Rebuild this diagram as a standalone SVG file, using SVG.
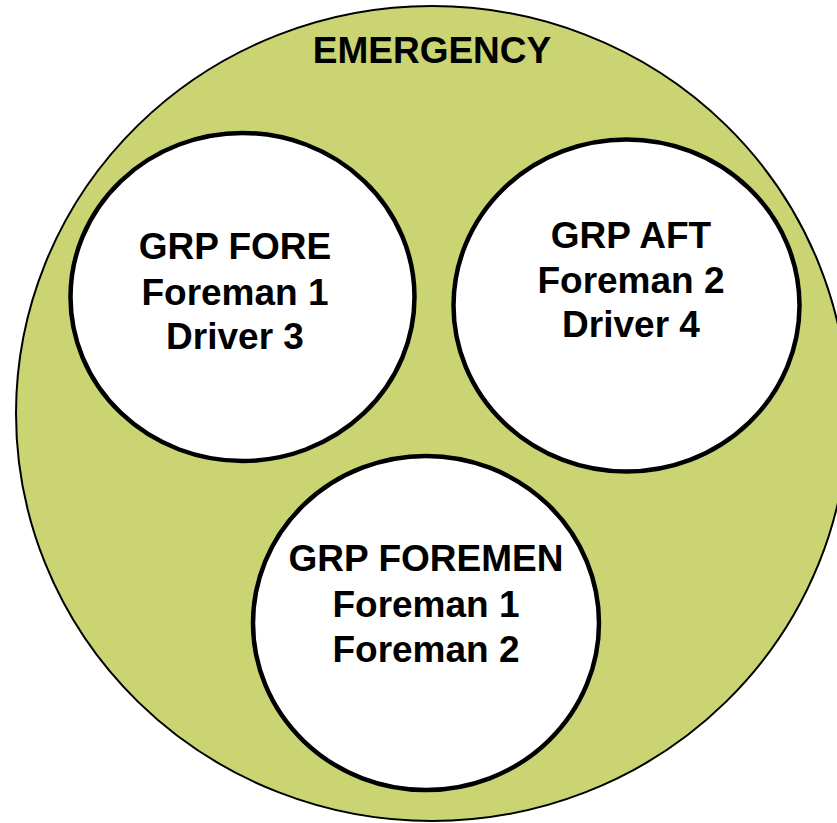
<svg xmlns="http://www.w3.org/2000/svg" width="837" height="823" viewBox="0 0 837 823">
<style>
.outer{fill:#CBD473;stroke:#000;stroke-width:2}
.inner{fill:#fff;stroke:#000;stroke-width:4.5}
text{font-family:"Liberation Sans",Arial,sans-serif;font-weight:bold;font-size:37px;fill:#000;text-anchor:middle}
</style>
<rect width="837" height="823" fill="#fff"/>
<g id="emergency">
<ellipse class="outer" cx="432" cy="413.5" rx="416" ry="407.5"/>
<text x="432" y="63">EMERGENCY</text>
</g>
<g id="grp-fore">
<ellipse class="inner" cx="242.5" cy="297" rx="172" ry="164"/>
<text x="235" y="259">GRP FORE</text>
<text x="235" y="305">Foreman 1</text>
<text x="235" y="349">Driver 3</text>
</g>
<g id="grp-aft">
<ellipse class="inner" cx="626.5" cy="305.5" rx="173" ry="166"/>
<text x="631" y="248">GRP AFT</text>
<text x="631" y="293">Foreman 2</text>
<text x="631" y="337">Driver 4</text>
</g>
<g id="grp-foremen">
<ellipse class="inner" cx="426" cy="623" rx="173" ry="167"/>
<text x="426" y="571">GRP FOREMEN</text>
<text x="426" y="617">Foreman 1</text>
<text x="426" y="662">Foreman 2</text>
</g>
<g id="connectors"/>
</svg>
